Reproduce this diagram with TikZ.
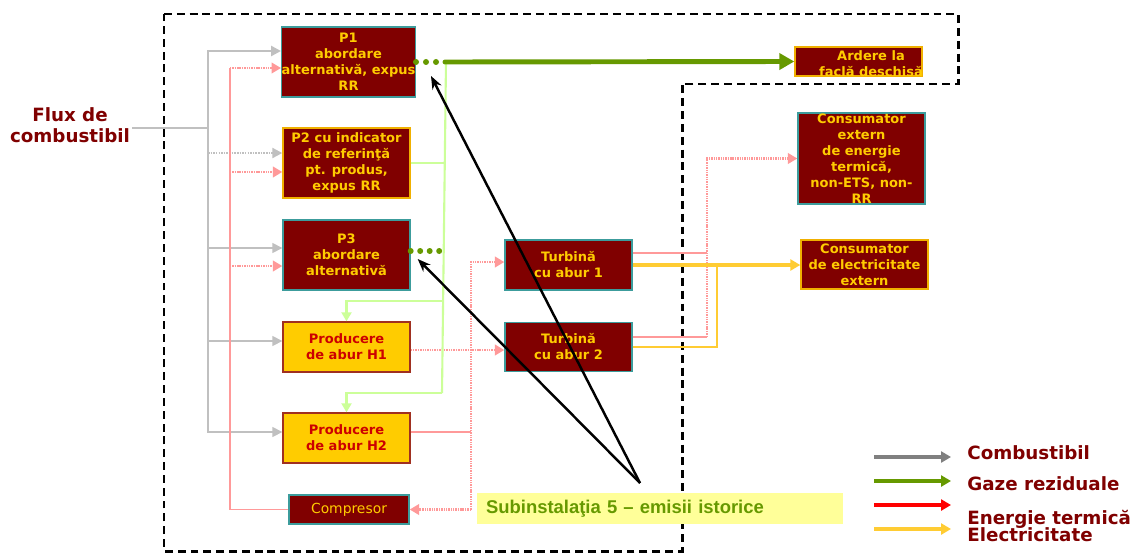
\documentclass[tikz,border=0pt]{standalone}
\usepackage{fontspec}
\setmainfont{DejaVu Sans}
\newfontfamily\subfont{Liberation Sans}
\usetikzlibrary{arrows.meta,calc}
\definecolor{boxred}{HTML}{800000}
\definecolor{boxtxt}{HTML}{FFCC00}
\definecolor{edgeteal}{HTML}{3C9C9C}
\definecolor{edgegold}{HTML}{F0B000}
\definecolor{steamfill}{HTML}{FFCC00}
\definecolor{steamedge}{HTML}{A03020}
\definecolor{steamtxt}{HTML}{CC0000}
\definecolor{fuelgray}{HTML}{C0C0C0}
\definecolor{heatpink}{HTML}{FF9999}
\definecolor{gasgreen}{HTML}{669900}
\definecolor{lightgreen}{HTML}{CCFF99}
\definecolor{elyellow}{HTML}{FFCC33}
\definecolor{legendtxt}{HTML}{800000}
\definecolor{notefill}{HTML}{FFFF99}
\newcommand\dgbox{\fontsize{7.4}{9.1}\selectfont\bfseries}
\newcommand\dglegend{\fontsize{10.4}{12}\selectfont\bfseries}
\begin{document}
\begin{tikzpicture}[x=0.02cm,y=-0.02cm,
  proc/.style={draw=edgeteal, fill=boxred, text=boxtxt, font=\dgbox, align=center,
    inner sep=0pt, line width=0.8pt, minimum width=2.54cm, minimum height=1.4cm},
  procgold/.style={proc, draw=edgegold},
  steam/.style={draw=steamedge, fill=steamfill, text=steamtxt, font=\dgbox, align=center,
    inner sep=0pt, line width=0.8pt, minimum width=2.54cm, minimum height=1cm},
  fuelthick/.style={draw=fuelgray, line width=1.7pt},
  fuelthin/.style={draw=fuelgray, line width=0.9pt},
  fueltip/.style={-{Triangle[length=0.2cm,width=0.2cm]}},
  heatthin/.style={draw=heatpink, line width=0.9pt},
  heatdot/.style={draw=heatpink, line width=1.35pt, dash pattern=on 0.8pt off 0.55pt},
  heattip/.style={-{Triangle[length=0.19cm,width=0.21cm]}},
  gasthick/.style={draw=gasgreen, line width=2.8pt, line cap=round},
  gastip/.style={-{Triangle[length=0.3cm,width=0.32cm]}},
  lgline/.style={draw=lightgreen, line width=1.2pt},
  lgtip/.style={-{Triangle[length=0.18cm,width=0.2cm]}},
  elthick/.style={draw=elyellow, line width=2.2pt},
  elthin/.style={draw=elyellow, line width=0.9pt},
  eltip/.style={-{Triangle[length=0.2cm,width=0.22cm]}},
  callout/.style={draw=black, line width=1.4pt, -{Stealth[length=0.26cm,width=0.2cm]}},
  border/.style={draw=black, line width=1.7pt, dash pattern=on 4.5pt off 2.8pt},
  legendarrow/.style={line width=1.8pt, -{Triangle[length=0.2cm,width=0.22cm]}},
  legendlbl/.style={text=legendtxt, font=\dglegend, inner sep=0pt, anchor=base west}
]
\fill[white] (0,0) rectangle (1135,554);
\useasboundingbox (0,0) rectangle (1135,554);

% installation boundary
\draw[border] (164,14) -- (958,14) -- (958,84) -- (682,84) -- (682,551) -- (164,551) -- cycle;

% process boxes
\node[proc] (P1) at (348.5,62) {P1\\abordare\\alternativă, expus\\RR};
\node[procgold] (P2) at (346.5,163) {P2 cu indicator\\de referinţă\\pt. produs,\\expus RR};
\node[proc] (P3) at (346.5,255) {P3\\abordare\\alternativă};
\node[steam] (H1) at (346.5,347) {Producere\\de abur H1};
\node[steam] (H2) at (346.5,438) {Producere\\de abur H2};
\node[proc, minimum width=2.4cm, minimum height=0.58cm, font=\fontsize{7.9}{9}\selectfont] (comp) at (349,509.5) {Compresor};
\node[proc, minimum height=1cm] (T1) at (568.5,265) {Turbină\\cu abur 1};
\node[proc, minimum height=0.98cm] (T2) at (568.5,347) {Turbină\\cu abur 2};
\node[procgold, minimum height=0.58cm] (flare) at (858.5,61.5) {};
\node[text=boxtxt, font=\dgbox, align=center, inner sep=0pt] (flaretxt) at (871,64) {Ardere la\\faclă deschisă};
\node[proc, minimum height=1.82cm] (ConsHeat) at (861.5,158.5) {Consumator\\extern\\de energie\\termică,\\non-ETS, non-\\RR};
\node[procgold, minimum height=0.98cm] (ConsEl) at (864.5,264.5) {Consumator\\de electricitate\\extern};

% fuel input label
\node[text=legendtxt, font=\fontsize{10.4}{11.9}\selectfont\bfseries, align=center, inner sep=0pt] (flux) at (70,125.5) {Flux de\\combustibil};

% fuel distribution
\coordinate (fj) at (208,128);
\coordinate (p2f) at ([yshift=0.2cm]P2.west);
\coordinate (p3f) at ([yshift=0.14cm]P3.west);
\coordinate (h1f) at ([yshift=0.12cm]H1.west);
\draw[fuelthick,fueltip] ([xshift=0.04cm]flux.east |- fj) -- (fj) |- ([yshift=0.22cm]P1.west);
\draw[fuelthin,fueltip] (fj) |- ([yshift=0.12cm]H2.west);
\draw[fuelthin,fueltip,line width=1.2pt,dash pattern=on 0.9pt off 0.6pt] (fj |- p2f) -- (p2f);
\draw[fuelthin,fueltip] (fj |- p3f) -- (p3f);
\draw[fuelthin,fueltip] (fj |- h1f) -- (h1f);

% heat from the compressor to the processes
\coordinate (pkx) at (230,0);
\coordinate (p1h) at ([yshift=-0.12cm]P1.west);
\coordinate (p2h) at ([yshift=-0.18cm]P2.west);
\coordinate (p3h) at ([yshift=-0.22cm]P3.west);
\draw[heatthin] (comp.west) -| (pkx |- p1h);
\draw[heatdot,heattip] (pkx |- p1h) -- (p1h);
\draw[heatdot,heattip] (pkx |- p2h) -- (p2h);
\draw[heatdot,heattip] (pkx |- p3h) -- (p3h);

% steam to turbines and compressor
\coordinate (prx) at (471,0);
\coordinate (t1h) at ([yshift=0.06cm]T1.west);
\coordinate (h2h) at ([yshift=0.12cm]H2.east);
\draw[heatdot,heattip] (prx |- comp.east) -- (comp.east);
\draw[heatdot,heattip] (prx |- comp.east) -- (prx |- t1h) -- (t1h);
\draw[heatthin] (h2h) -- (prx |- h2h);
\draw[heatdot,heattip] ([yshift=-0.06cm]H1.east) -- ([yshift=-0.06cm]T2.west);

% heat exported from the turbines
\coordinate (hvx) at (707,0);
\coordinate (t1o) at ([yshift=0.24cm]T1.east);
\coordinate (t2o) at ([yshift=0.2cm]T2.east);
\draw[heatthin] (t1o) -- (hvx |- t1o);
\draw[heatthin] (t2o) -- (hvx |- t2o);
\draw[heatdot,heattip] (hvx |- t2o) |- (ConsHeat.west);

% electricity
\coordinate (elx) at (717,0);
\draw[elthin] (T2.east) -| (elx |- T1.east);
\draw[elthick,eltip] (T1.east) -- (T1.east -| ConsEl.west);

% waste gas
\foreach \d in {0,10,20}
  \fill[gasgreen] ([xshift=\d*0.02cm]P1.east) circle[radius=0.06cm];
\foreach \d in {0,9.5,19,28.5}
  \fill[gasgreen] ([xshift=\d*0.02cm,yshift=0.08cm]P3.east) circle[radius=0.06cm];
\coordinate (gtop) at ([xshift=0.6cm]P1.east);
\coordinate (g1) at (442,301);
\coordinate (g2) at (442,393);
\draw[lgline] (gtop) -- (g2);
\draw[lgline] (P2.east) -- (gtop |- P2.east);
\draw[lgline,lgtip] (g1) -| (H1.north);
\draw[lgline,lgtip] (g2) -| (H2.north);
\draw[gasthick,gastip] ([xshift=0.58cm]P1.east) -- (flare.west);

% historical emissions note
\node[fill=notefill, minimum width=7.32cm, minimum height=0.62cm, text width=6.96cm,
  inner xsep=0.18cm, inner ysep=0pt, align=left, text=gasgreen,
  font=\subfont\fontsize{10.5}{12}\selectfont\bfseries] (note) at (660,508.5)
  {Subinstalaţia 5 – emisii istorice};
\coordinate (cp) at (640,483);
\coordinate (p1c) at ([xshift=0.3cm,yshift=-0.28cm]P1.east);
\coordinate (p3c) at ([xshift=0.14cm,yshift=-0.08cm]P3.east);
\draw[callout] (cp) -- (p1c);
\draw[callout] (cp) -- (p3c);

% legend
\node[legendlbl] (lgfuel) at (967,459) {Combustibil};
\node[legendlbl] (lggas) at (967,490) {Gaze reziduale};
\node[legendlbl] (lgheat) at (967,524) {Energie termică};
\node[legendlbl] (lgel) at (967,541) {Electricitate};
\coordinate (la1) at (874,457); \coordinate (lb1) at (951,457);
\coordinate (la2) at (874,481); \coordinate (lb2) at (951,481);
\coordinate (la3) at (874,505); \coordinate (lb3) at (951,505);
\coordinate (la4) at (874,529); \coordinate (lb4) at (951,529);
\draw[legendarrow, draw=gray, fill=gray] (la1) -- (lb1);
\draw[legendarrow, draw=gasgreen, fill=gasgreen] (la2) -- (lb2);
\draw[legendarrow, draw=red, fill=red] (la3) -- (lb3);
\draw[legendarrow, draw=elyellow, fill=elyellow] (la4) -- (lb4);
\end{tikzpicture}
\end{document}
